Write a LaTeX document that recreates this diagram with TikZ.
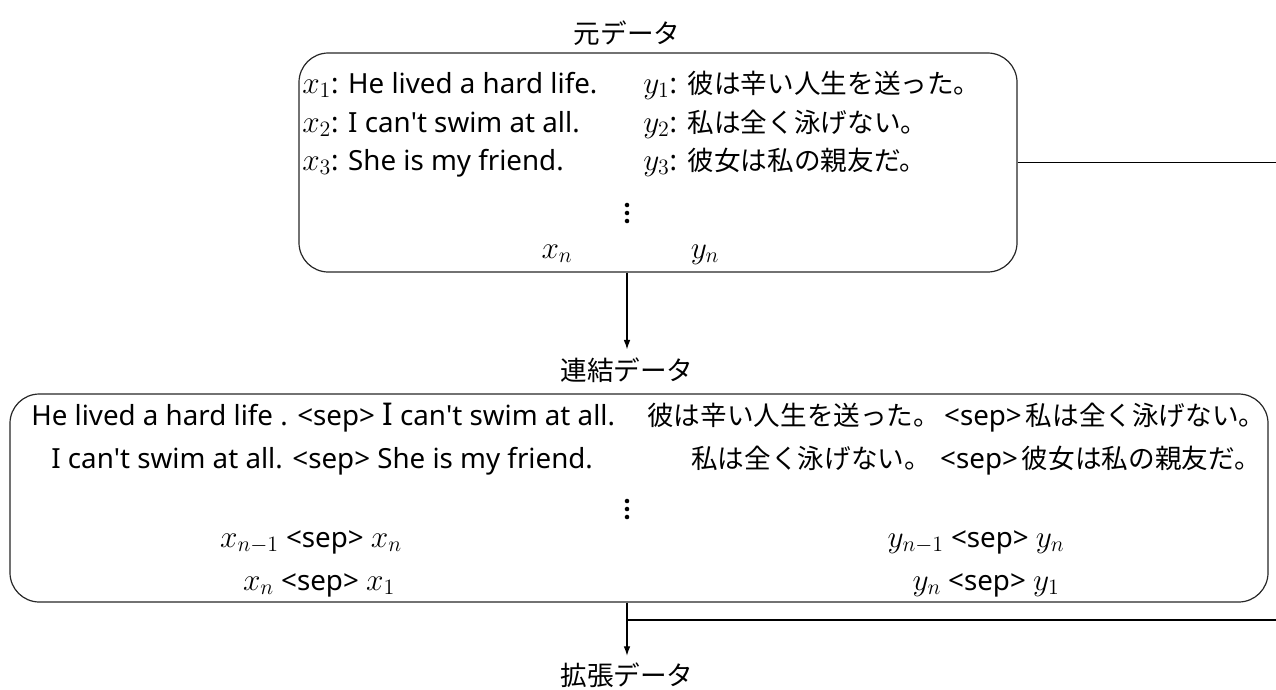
\documentclass[tikz,border=0pt]{standalone}
\usepackage{fix-cm}
\usepackage{fontspec}
\setmainfont{Noto Sans}
\newfontfamily\jpfont{Noto Sans CJK JP}[Scale=0.96]
\newcommand\jp[1]{{\jpfont #1}}
\newcommand\mx[1]{{\fontsize{23.5pt}{26pt}\selectfont$#1$}}
\newcommand\ap{\textquotesingle}
\newcommand\sepw{\hspace{3pt}<sep>\hspace{3pt}}
\usetikzlibrary{arrows.meta}
\begin{document}
\begin{tikzpicture}[x=0.75pt,y=-0.75pt,
  every node/.style={font=\fontsize{20.8pt}{24pt}\selectfont, inner sep=0pt},
  databox/.style={draw=black!85, line width=0.9pt, rounded corners=22pt},
  txt/.style={anchor=base west},
  ctxt/.style={anchor=base},
  lbl/.style={anchor=center},
  dot/.style={fill=black, draw=none, circle, minimum size=3.4pt},
  conn/.style={line width=0.8pt},
  arr/.style={conn, -{Latex[length=7pt,width=5pt]}}]
\useasboundingbox (0,0) rectangle (1276,689);

% labels
\node[lbl] (l1) at (627,33) {\jp{元データ}};
\node[lbl, inner sep=6pt] (l2) at (627,370) {\jp{連結データ}};
\node[lbl, inner sep=5pt] (l3) at (627,675) {\jp{拡張データ}};

% top box
\node[databox, minimum width=538.5pt, minimum height=164.25pt] (b1) at (658,162.5) {};
\node[txt] (x1) at (302,93) {\mx{x_1}: He lived a hard life.};
\node[txt] (x2) at (302,132) {\mx{x_2}: I can\ap t swim at all.};
\node[txt] (x3) at (302,170) {\mx{x_3}: She is my friend.};
\node[txt] (y1) at (643,93) {\mx{y_1}:\hspace{8pt}\jp{彼は辛い人生を送った。}};
\node[txt] (y2) at (643,132) {\mx{y_2}:\hspace{8pt}\jp{私は全く泳げない。}};
\node[txt] (y3) at (643,170) {\mx{y_3}:\hspace{8pt}\jp{彼女は私の親友だ。}};
\node[dot] (d1a) at (627,205) {};
\node[dot] (d1b) at (627,213) {};
\node[dot] (d1c) at (627,221) {};
\node[ctxt] (xn) at (557,258) {\mx{x_n}};
\node[ctxt] (yn) at (705,258) {\mx{y_n}};

% bottom box
\node[databox, minimum width=943.5pt, minimum height=156pt] (b2) at (639,498) {};
\node[txt] (c1) at (31,425) {He lived a hard life . <sep> \mx{\mathrm{I}} can\ap t swim at all.};
\node[txt] (e1) at (647,425) {\jp{彼は辛い人生を送った。}\sepw\jp{私は全く泳げない。}};
\node[txt] (c2) at (51,468) {I can\ap t swim at all. <sep> She is my friend.};
\node[txt] (e2) at (691,468) {\jp{私は全く泳げない。}\hspace{4pt}\sepw\jp{彼女は私の親友だ。}};
\node[dot] (d2a) at (627,501) {};
\node[dot] (d2b) at (627,509) {};
\node[dot] (d2c) at (627,517) {};
\node[ctxt] (c3) at (311,547) {\mx{x_{n-1}} <sep> \mx{x_n}};
\node[ctxt] (e3) at (976,547) {\mx{y_{n-1}} <sep> \mx{y_n}};
\node[ctxt] (c4) at (319,590) {\mx{x_n} <sep> \mx{x_1}};
\node[ctxt] (e4) at (986,590) {\mx{y_n} <sep> \mx{y_1}};

% connectors
\coordinate (r1) at (1276,162.5);
\draw[conn] (b1.east) -- (r1);
\draw[arr] (b1.south -| l2) -- (l2.north);
\coordinate (j) at (627,620);
\coordinate (r2) at (1276,620);
\draw[arr] (b2.south -| l3) -- (l3.north);
\draw[conn] (j) -- (r2);
\end{tikzpicture}
\end{document}
